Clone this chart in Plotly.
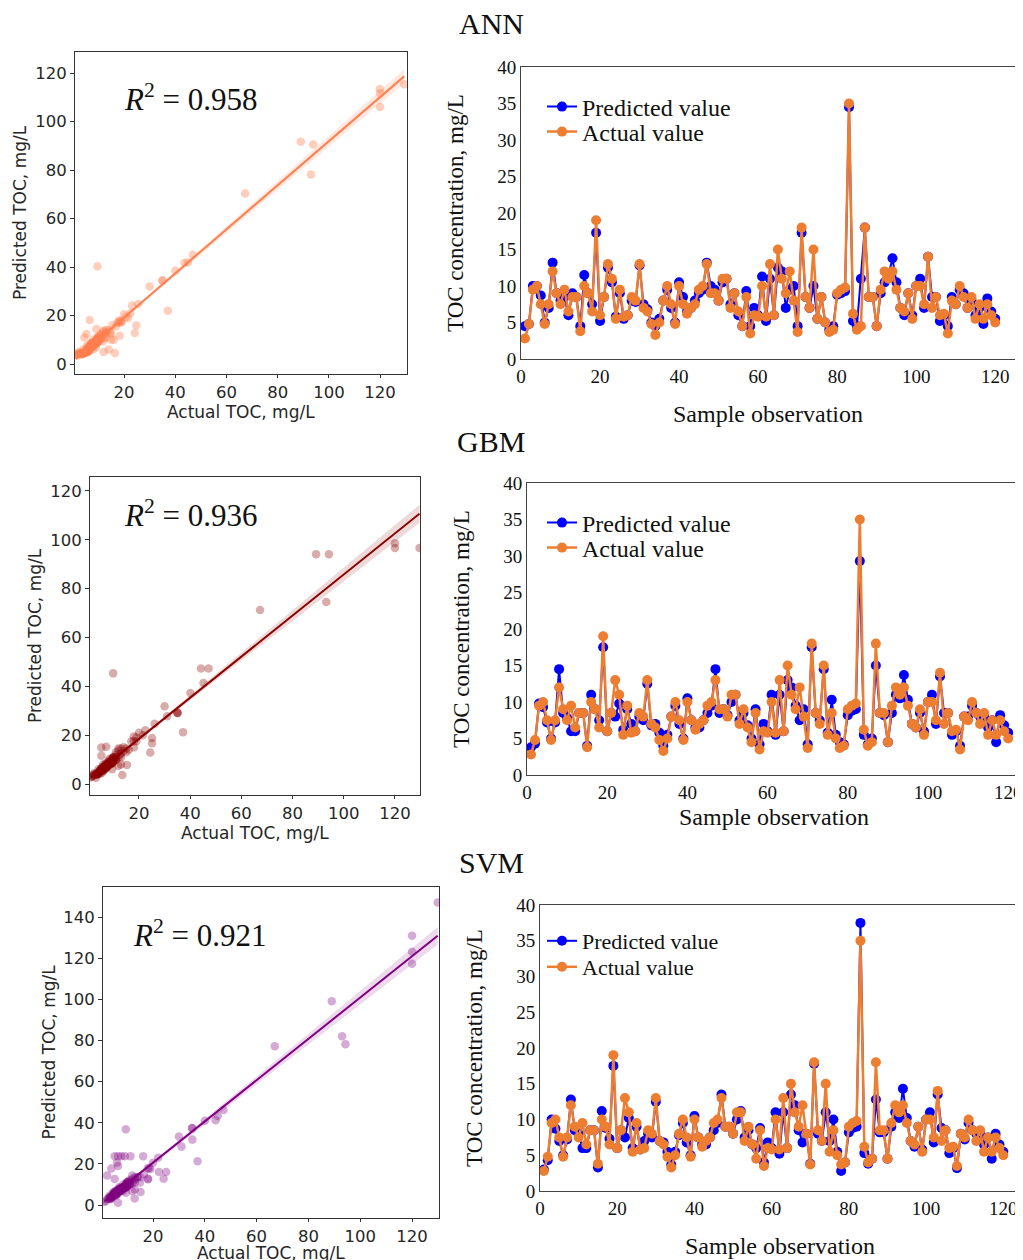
import numpy as np
import plotly.graph_objects as go

# sample index for the time-series panels
sample = list(range(1, 121))

# actual TOC (mg/L) of the 120 test samples
actual = [2.8, 4.8, 9.5, 10.0, 7.5, 4.8, 7.5, 12.0, 9.0, 7.5,
          9.5, 6.5, 8.5, 8.5, 3.8, 10.0, 9.0, 6.5, 19.0, 6.0,
          8.5, 13.0, 11.0, 5.5, 9.5, 5.8, 6.0, 8.5, 8.0, 13.0,
          7.0, 6.5, 4.8, 3.3, 5.0, 8.0, 10.0, 7.5, 4.8, 10.0,
          7.5, 6.2, 7.0, 7.5, 9.5, 10.0, 13.0, 9.0, 9.0, 8.0,
          11.0, 11.0, 7.0, 9.0, 6.5, 4.5, 8.5, 3.5, 6.0, 5.8,
          10.0, 5.8, 13.0, 6.0, 15.0, 11.0, 9.0, 12.0, 8.0, 3.7,
          18.0, 8.5, 7.0, 15.0, 5.5, 8.5, 5.0, 3.7, 4.0, 9.0,
          9.5, 9.8, 35.0, 6.2, 4.0, 4.5, 18.0, 8.5, 8.5, 4.5,
          9.5, 12.0, 11.0, 12.0, 9.5, 7.0, 6.5, 9.0, 5.5, 10.0,
          10.0, 7.5, 14.0, 7.0, 8.5, 6.0, 6.2, 3.5, 8.0, 7.5,
          10.0, 8.5, 7.0, 8.5, 5.5, 7.5, 5.5, 7.5, 6.0, 5.0]

pred_ann = [4.5, 4.8, 10.0, 10.0, 8.7, 5.0, 7.0, 13.2, 9.0, 8.0,
            8.5, 6.0, 9.0, 8.5, 4.5, 11.5, 9.0, 7.5, 17.3, 5.2,
            8.5, 12.5, 10.5, 5.8, 9.0, 5.5, 6.0, 8.0, 7.8, 12.8,
            7.5, 6.8, 5.0, 4.5, 5.5, 8.0, 9.5, 7.0, 5.0, 10.5,
            8.5, 6.5, 7.0, 8.0, 9.0, 9.5, 13.2, 10.0, 9.5, 8.0,
            10.5, 11.0, 7.5, 9.0, 6.0, 4.5, 9.3, 4.5, 7.0, 6.0,
            11.3, 5.2, 11.0, 6.0, 12.5, 12.0, 7.0, 9.5, 10.0, 4.5,
            17.3, 8.5, 7.0, 10.0, 5.5, 8.5, 5.0, 4.0, 4.5, 8.8,
            9.0, 9.3, 34.5, 5.2, 4.5, 11.0, 18.0, 8.5, 8.5, 4.5,
            9.0, 10.5, 11.5, 13.8, 10.5, 7.0, 6.0, 9.0, 6.0, 10.0,
            11.0, 7.0, 14.0, 8.5, 8.5, 5.2, 6.0, 4.5, 8.5, 7.5,
            9.5, 9.0, 7.0, 8.0, 6.0, 7.0, 4.8, 8.3, 6.5, 5.5]

pred_gbm = [3.8, 4.3, 9.8, 9.3, 7.2, 5.0, 7.2, 14.5, 8.5, 7.8,
            6.0, 6.0, 8.5, 8.5, 4.0, 11.0, 9.0, 7.5, 17.5, 6.0,
            8.5, 8.0, 9.8, 6.2, 9.0, 7.0, 6.0, 8.0, 7.5, 12.5,
            6.8, 7.0, 5.8, 4.0, 5.5, 8.0, 9.5, 7.0, 5.0, 10.5,
            7.5, 6.5, 6.5, 7.5, 8.5, 9.5, 14.5, 8.5, 9.0, 8.2,
            10.0, 11.0, 7.5, 8.5, 6.8, 5.0, 9.0, 4.2, 7.0, 6.0,
            11.0, 5.5, 11.0, 6.0, 13.0, 12.0, 9.5, 7.5, 9.0, 4.2,
            17.5, 8.5, 7.5, 14.5, 5.8, 10.3, 5.5, 4.5, 4.2, 8.2,
            8.8, 9.0, 29.3, 5.5, 4.2, 5.0, 15.0, 8.5, 8.2, 4.5,
            8.5, 11.0, 10.5, 13.7, 10.3, 7.0, 6.5, 8.5, 6.0, 10.0,
            11.0, 7.0, 13.5, 8.5, 8.5, 5.5, 6.0, 4.0, 8.0, 8.0,
            9.5, 8.5, 8.0, 8.0, 6.5, 7.5, 4.5, 8.2, 6.8, 5.8]

pred_svm = [3.0, 4.3, 10.0, 8.7, 7.0, 5.0, 7.2, 12.8, 8.5, 8.0,
            6.0, 6.0, 8.5, 8.5, 3.3, 11.2, 8.8, 7.3, 17.5, 6.0,
            8.5, 7.5, 10.2, 6.0, 9.0, 5.8, 7.0, 8.0, 7.5, 12.5,
            7.0, 6.8, 5.5, 3.7, 5.5, 7.8, 9.5, 6.8, 5.0, 10.5,
            7.5, 6.5, 6.5, 7.5, 8.5, 9.5, 13.5, 9.0, 9.0, 8.0,
            10.0, 11.2, 7.5, 8.5, 6.5, 6.0, 8.8, 4.0, 6.8, 6.0,
            11.0, 5.2, 11.0, 6.0, 13.5, 12.0, 8.5, 6.8, 8.0, 3.8,
            17.8, 8.0, 7.0, 11.0, 7.0, 10.0, 5.5, 2.8, 4.0, 8.2,
            8.8, 9.0, 37.5, 5.3, 3.8, 4.5, 12.8, 8.2, 8.2, 4.5,
            9.0, 11.0, 10.2, 14.3, 10.2, 7.0, 6.2, 9.0, 5.8, 10.0,
            11.0, 6.8, 13.5, 8.8, 8.5, 5.3, 6.0, 3.2, 8.0, 7.2,
            9.5, 8.5, 8.0, 8.0, 6.5, 7.5, 4.5, 8.0, 6.5, 5.5]

# extra scatter points (actual, predicted)
ann_x = [129.4, 119.9, 120.0, 120.0, 89.0, 93.9, 93.0, 67.3, 46.9, 44.9, 43.6, 40.0, 35.0,
         30.0, 37.1, 9.6, 6.6, 24.8, 24.2, 18.3, 16.4, 23.2, 25.5, 5.3, 9.2, 1.2, 1.8, 2.3,
         3.0, 20.0, 21.5, 22.5, 12.0, 14.0, 16.0, 15.5, 17.5, 19.0, 1.5, 2.0, 2.6, 3.4,
         4.0, 4.6, 5.5, 6.2, 7.0, 8.0, 11.0, 13.0, 14.5, 16.8, 18.8, 20.8]
ann_y = [115.4, 113.4, 111.7, 106.0, 91.7, 90.6, 78.2, 70.3, 45.1, 41.9, 41.8, 38.6, 34.5,
         32.0, 22.0, 40.3, 18.2, 15.9, 12.8, 11.7, 4.6, 24.1, 24.8, 12.4, 14.5, 3.8, 4.0, 4.2,
         4.5, 20.5, 19.0, 21.0, 5.0, 6.0, 10.0, 16.0, 17.0, 18.0, 4.5, 3.5, 5.0, 4.0,
         6.0, 5.0, 7.5, 6.5, 8.5, 6.0, 12.5, 14.0, 13.0, 15.5, 17.0, 19.5]

gbm_x = [129.6, 120.0, 120.0, 89.2, 94.2, 93.2, 67.3, 44.2, 47.2, 45.2, 40.1, 35.1, 35.0,
         30.0, 31.0, 37.2, 9.9, 26.1, 25.1, 24.4, 25.1, 13.5, 5.3, 7.2, 5.3, 15.3, 3.2, 1.2,
         1.8, 2.3, 20.0, 21.5, 22.5, 17.0, 19.0, 1.5, 2.0, 2.7, 3.5, 4.2, 5.0, 6.0, 7.0,
         8.2, 11.0, 12.5, 14.0, 16.0, 18.0]
gbm_y = [96.6, 98.6, 96.6, 94.1, 94.1, 74.5, 71.2, 47.3, 47.3, 41.4, 37.3, 29.2, 29.0,
         31.8, 27.7, 21.2, 45.3, 24.7, 16.7, 12.9, 18.8, 3.7, 14.9, 15.3, 11.6, 7.8, 2.6, 2.8,
         3.2, 3.5, 21.0, 20.0, 22.0, 17.5, 19.0, 3.0, 4.0, 4.5, 3.8, 6.0, 5.5, 8.0, 6.5,
         9.5, 13.0, 12.0, 15.0, 14.0, 19.5]

svm_x = [129.9, 120.0, 120.0, 120.0, 89.0, 93.0, 94.3, 67.0, 47.2, 45.0, 44.2, 40.0, 35.2,
         35.2, 30.0, 31.0, 37.2, 9.5, 5.2, 6.5, 7.8, 9.1, 11.3, 16.2, 6.5, 6.1, 3.9, 2.3, 5.2,
         25.1, 24.1, 22.3, 18.1, 15.2, 12.9, 6.5, 1.2, 1.8, 20.0, 22.0, 2.5, 3.2, 4.0, 4.8,
         5.6, 7.2, 8.5, 10.5, 12.0, 14.0, 16.5, 18.5]
svm_y = [147.1, 130.9, 123.1, 117.3, 99.1, 82.1, 78.2, 77.2, 46.2, 43.3, 41.2, 41.0, 37.3,
         31.8, 33.3, 28.4, 21.3, 36.8, 23.7, 23.7, 23.7, 23.7, 23.7, 23.7, 19.0, 20.6, 17.8,
         14.4, 12.7, 16.1, 12.8, 16.1, 12.5, 6.3, 3.2, 1.1, 1.5, 2.0, 20.5, 23.0, 3.0, 4.5,
         3.5, 6.0, 5.0, 8.0, 7.0, 11.5, 10.5, 13.5, 15.0, 18.0]

r2_text = ['0.958', '0.936', '0.921']

# page is drawn with an 8 px body margin, so positions below are page pixels
OFF = 8
W, H = 1023 - OFF, 1260 - OFF


def px(x):
    return (x - OFF) / W


def py(y):
    return 1 - (y - OFF) / H


fig = go.Figure()

panels = [
    ('ANN', ann_x, ann_y, pred_ann, '#FF7F50', 'rgba(255,127,80,0.38)', 'rgba(255,127,80,0.18)',
     (75, 407, 52, 374), [0.86, 130.5], [-4.1, 128.7],
     (521, 1015, 67, 359), 125.0, 24, (122, 97), (107, 132), 24),
    ('GBM', gbm_x, gbm_y, pred_gbm, '#8B0000', 'rgba(139,0,0,0.33)', 'rgba(139,0,0,0.15)',
     (90, 420, 477, 795), [0.86, 129.8], [-4.5, 125.7],
     (527, 1023, 483, 775), 123.7, 441, (122, 514), (523, 548), 24),
    ('SVM', svm_x, svm_y, pred_svm, '#800080', 'rgba(128,0,128,0.33)', 'rgba(128,0,128,0.15)',
     (103, 439, 887, 1218), [0.7, 130.4], [-6.3, 154.6],
     (540, 1023, 905, 1191), 125.1, 862, (131, 933), (941, 967), 22),
]

annotations = []
layout_axes = {}
sans = 'DejaVu Sans'
serif = 'Liberation Serif'


def note(x, y, text, font, angle=0, xanchor='center'):
    annotations.append(dict(x=px(x), y=py(y), xref='paper', yref='paper', text=text,
                            showarrow=False, textangle=angle, xanchor=xanchor,
                            yanchor='middle', font=font))


for i, (name, ex, ey, pred, col, pcol, bandcol, sbox, sxr, syr, tbox, txmax,
        ty, r2pos, legy, legfs) in enumerate(panels):
    sx = 2 * i + 1
    tx = 2 * i + 2
    sfx = '' if sx == 1 else str(sx)
    xa = 'x' + sfx
    ya = 'y' + sfx

    # parity scatter: test samples plus the other points
    xs = np.array(actual + ex)
    ys = np.array(pred + ey)
    slope, icpt = np.polyfit(xs, ys, 1)
    n = len(xs)
    resid = ys - (slope * xs + icpt)
    s = np.sqrt(np.sum(resid ** 2) / (n - 2))
    xm = xs.mean()
    sxx = np.sum((xs - xm) ** 2)
    xg = np.linspace(xs.min(), xs.max(), 100)
    yg = slope * xg + icpt
    se = s * np.sqrt(1 / n + (xg - xm) ** 2 / sxx)
    lo = yg - 1.96 * se
    hi = yg + 1.96 * se

    fig.add_trace(go.Scatter(x=xs, y=ys, mode='markers', showlegend=False,
                             marker=dict(size=8.5, color=pcol, line=dict(width=0)),
                             xaxis=xa, yaxis=ya))
    fig.add_trace(go.Scatter(x=np.concatenate([xg, xg[::-1]]), y=np.concatenate([hi, lo[::-1]]),
                             fill='toself', fillcolor=bandcol, line=dict(width=0),
                             mode='lines', showlegend=False, hoverinfo='skip',
                             xaxis=xa, yaxis=ya))
    fig.add_trace(go.Scatter(x=xg, y=yg, mode='lines', showlegend=False,
                             line=dict(color=col, width=2), xaxis=xa, yaxis=ya))

    # time series, one single-entry legend per row
    lp = 'legend' if i == 0 else 'legend' + str(2 * i + 1)
    la = 'legend' + str(2 * i + 2)
    fig.add_trace(go.Scatter(x=sample, y=pred, mode='lines+markers', name='Predicted value',
                             line=dict(color='#0000FF', width=2),
                             marker=dict(size=10, color='#0000FF'),
                             legend=lp, xaxis='x' + str(tx), yaxis='y' + str(tx)))
    fig.add_trace(go.Scatter(x=sample, y=actual, mode='lines+markers', name='Actual value',
                             line=dict(color='#ED7D31', width=2.5),
                             marker=dict(size=10, color='#ED7D31'),
                             legend=la, xaxis='x' + str(tx), yaxis='y' + str(tx)))

    l, r, t, b = sbox
    tickf = dict(family=sans, size=16.5, color='#262626')
    layout_axes['xaxis' + sfx] = dict(
        domain=[px(l), px(r)], range=sxr, anchor=ya, automargin=False,
        showline=True, mirror=True, linecolor='#333333', linewidth=1,
        ticks='outside', ticklen=3, tickcolor='#333333', showgrid=False, zeroline=False,
        tickvals=[20, 40, 60, 80, 100, 120], tickfont=tickf)
    yt = [0, 20, 40, 60, 80, 100, 120] + ([140] if i == 2 else [])
    layout_axes['yaxis' + sfx] = dict(
        domain=[py(b), py(t)], range=syr, anchor=xa, automargin=False,
        showline=True, mirror=True, linecolor='#333333', linewidth=1,
        ticks='outside', ticklen=4, tickcolor='#333333', showgrid=False, zeroline=False,
        tickvals=yt, tickfont=tickf)

    l2, r2, t2, b2 = tbox
    serf = dict(family=serif, size=19, color='#111111')
    layout_axes['xaxis' + str(tx)] = dict(
        domain=[px(l2), min(px(r2), 1.0)], range=[0, txmax], anchor='y' + str(tx),
        automargin=False, showline=True, mirror=True, linecolor='#444444', linewidth=1,
        ticks='', showgrid=False, zeroline=False, dtick=20, tickfont=serf)
    layout_axes['yaxis' + str(tx)] = dict(
        domain=[py(b2), py(t2)], range=[0, 40], anchor='x' + str(tx), automargin=False,
        showline=True, mirror=True, linecolor='#444444', linewidth=1,
        ticks='', showgrid=False, zeroline=False, dtick=5, tickfont=serf)

    for lg, yy in ((lp, legy[0]), (la, legy[1])):
        layout_axes[lg] = dict(x=px(542), y=py(yy), xanchor='left', yanchor='middle',
                               bgcolor='rgba(0,0,0,0)', borderwidth=0,
                               font=dict(family=serif, size=legfs, color='#111111'))

    # panel title and R^2
    note(491, ty, name, dict(family=serif, size=30, color='#111111'))
    note(r2pos[0], r2pos[1], '<i>R</i><sup>2</sup> = ' + r2_text[i],
         dict(family=serif, size=31, color='#111111'), xanchor='left')
    # scatter axis titles
    note(l - 55, (t + b) / 2, 'Predicted TOC, mg/L', dict(family=sans, size=17, color='#262626'), -90)
    note((l + r) / 2, b + (35 if i == 2 else 38), 'Actual TOC, mg/L',
         dict(family=sans, size=17, color='#262626'))
    # time-series axis titles
    note(l2 - 66, (t2 + b2) / 2, 'TOC concentration, mg/L', dict(family=serif, size=23, color='#111111'), -90)
    note(768 + 6 * i, b2 + (42 if i == 1 else 55), 'Sample observation',
         dict(family=serif, size=24, color='#111111'))

fig.update_layout(width=W, height=H, margin=dict(l=0, r=0, t=0, b=0, autoexpand=False),
                  paper_bgcolor='white', plot_bgcolor='white',
                  annotations=annotations, **layout_axes)

fig.write_html("out.html")
